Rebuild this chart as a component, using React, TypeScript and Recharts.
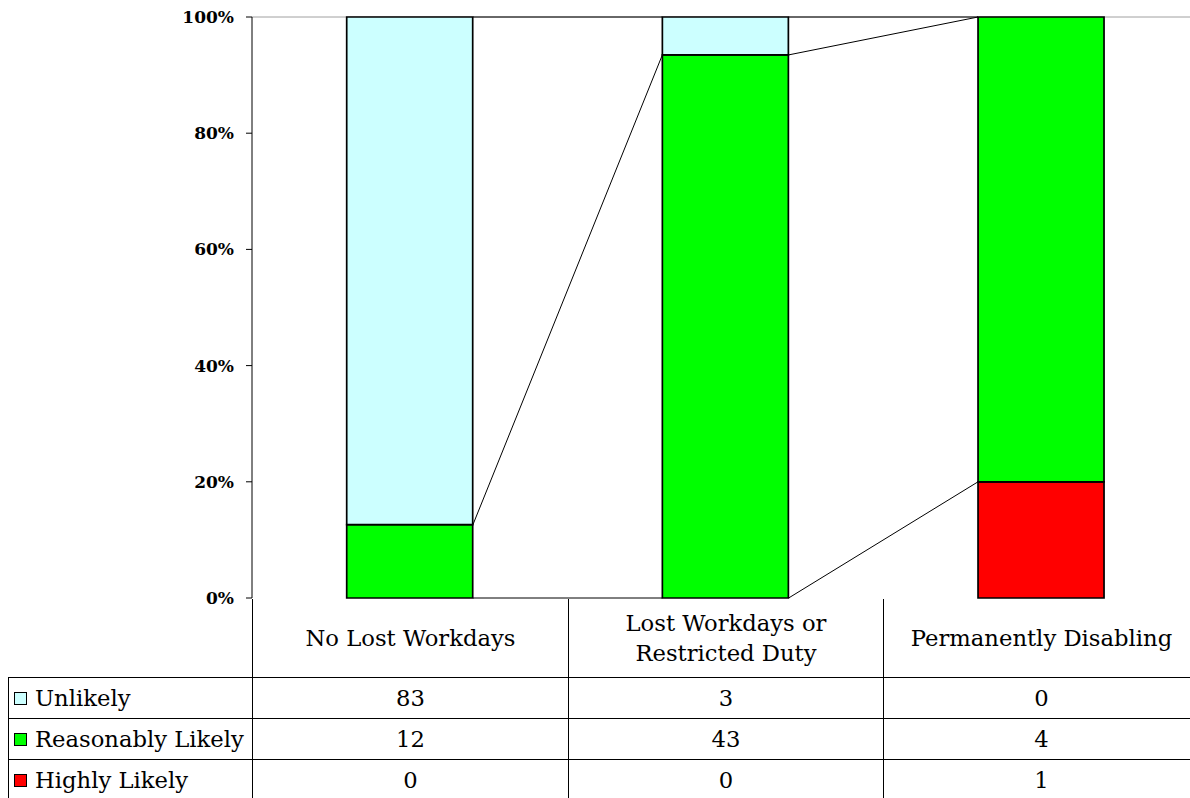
import { BarChart, Bar, XAxis, YAxis, CartesianGrid, ReferenceLine } from 'recharts'

const categories = ['No Lost Workdays', 'Lost Workdays or Restricted Duty', 'Permanently Disabling']
const categoryLines = [['No Lost Workdays'], ['Lost Workdays or', 'Restricted Duty'], ['Permanently Disabling']]
const seriesNames = ['Unlikely', 'Reasonably Likely', 'Highly Likely']
const unlikely = [83, 3, 0]
const reasonablyLikely = [12, 43, 4]
const highlyLikely = [0, 0, 1]
const yTicks = [0, 0.2, 0.4, 0.6, 0.8, 1]

const COLORS = { unlikely: '#CCFFFF', reasonably: '#00FF00', highly: '#FF0000' }
const FONT = '"DejaVu Serif"'
const GAP = 0.3 // barCategoryGap as band fraction

const data = categories.map((name, i) => ({
  name,
  idx: i,
  highly: highlyLikely[i],
  reasonably: reasonablyLikely[i],
  unlikely: unlikely[i],
}))

// top of each stack segment, as a share of the column total
const tops = data.map((d) => {
  const total = d.highly + d.reasonably + d.unlikely
  return [d.highly / total, (d.highly + d.reasonably) / total, 1]
})

const seriesLines: { x1: number; y1: number; x2: number; y2: number }[] = []
for (let i = 0; i < data.length - 1; i++) {
  for (let s = 0; s < 3; s++) {
    seriesLines.push({ x1: i + 1 - GAP, y1: tops[i][s], x2: i + 1 + GAP, y2: tops[i + 1][s] })
  }
}

const tableRows = [
  { name: seriesNames[0], color: COLORS.unlikely, values: unlikely },
  { name: seriesNames[1], color: COLORS.reasonably, values: reasonablyLikely },
  { name: seriesNames[2], color: COLORS.highly, values: highlyLikely },
]

const COLS = [245, 316, 315, 316]

function Cell({ children, style }: any) {
  return (
    <div
      style={{
        boxSizing: 'border-box',
        borderRight: '1px solid #000',
        borderBottom: '1px solid #000',
        display: 'flex',
        alignItems: 'center',
        justifyContent: 'center',
        whiteSpace: 'nowrap',
        ...style,
      }}
    >
      {children}
    </div>
  )
}

function DataTable() {
  return (
    <div
      style={{
        position: 'absolute',
        left: 8,
        top: 599,
        display: 'grid',
        gridTemplateColumns: COLS.map((w) => `${w}px`).join(' '),
        gridTemplateRows: '79px 41px 41px 41px',
        fontFamily: FONT,
        fontSize: 22.7,
        color: '#000',
      }}
    >
      <Cell />
      {categoryLines.map((lines, i) => (
        <Cell key={i} style={{ flexDirection: 'column', lineHeight: '30px' }}>
          {lines.map((l) => (
            <span key={l}>{l}</span>
          ))}
        </Cell>
      ))}
      {tableRows.map((r) => [
        <Cell key={r.name} style={{ borderLeft: '1px solid #000', justifyContent: 'flex-start', paddingLeft: 5 }}>
          <span
            style={{
              display: 'inline-block',
              width: 11,
              height: 11,
              background: r.color,
              border: '1px solid #000',
              marginRight: 8,
            }}
          />
          {r.name}
        </Cell>,
        ...r.values.map((v, i) => <Cell key={r.name + i}>{v}</Cell>),
      ])}
    </div>
  )
}

export default function App() {
  return (
    <div
      style={{
        position: 'absolute',
        left: 0,
        top: 0,
        width: 1190,
        height: 798,
        overflow: 'hidden',
        background: '#fff',
        fontFamily: FONT,
      }}
    >
      <BarChart
        width={1200}
        height={798}
        data={data}
        stackOffset="expand"
        barCategoryGap="30%"
        margin={{ top: 17, right: 1, bottom: 200, left: 0 }}
      >
        <CartesianGrid vertical={false} horizontalValues={[1]} stroke="#a0a0a0" />
        <XAxis dataKey="name" tick={false} tickLine={false} height={0} axisLine={{ stroke: '#000' }} />
        <XAxis xAxisId="n" type="number" dataKey="idx" domain={[0, 3]} allowDataOverflow hide />
        <YAxis
          type="number"
          domain={[0, 1]}
          ticks={yTicks}
          width={252}
          tickSize={6}
          tickMargin={12}
          tickFormatter={(v: number) => `${Math.round(v * 100)}%`}
          tick={{ fill: '#000', fontSize: 17, fontWeight: 700, fontFamily: FONT }}
          axisLine={{ stroke: '#000' }}
          tickLine={{ stroke: '#000' }}
        />
        <Bar dataKey="highly" stackId="a" fill={COLORS.highly} stroke="#000" strokeWidth={1.7} isAnimationActive={false} />
        <Bar dataKey="reasonably" stackId="a" fill={COLORS.reasonably} stroke="#000" strokeWidth={1.7} isAnimationActive={false} />
        <Bar dataKey="unlikely" stackId="a" fill={COLORS.unlikely} stroke="#000" strokeWidth={1.7} isAnimationActive={false} />
        {seriesLines.map((s, i) => (
          <ReferenceLine
            key={i}
            xAxisId="n"
            segment={[
              { x: s.x1, y: s.y1 },
              { x: s.x2, y: s.y2 },
            ]}
            stroke="#000"
            strokeWidth={1}
          />
        ))}
      </BarChart>
      <DataTable />
    </div>
  )
}
